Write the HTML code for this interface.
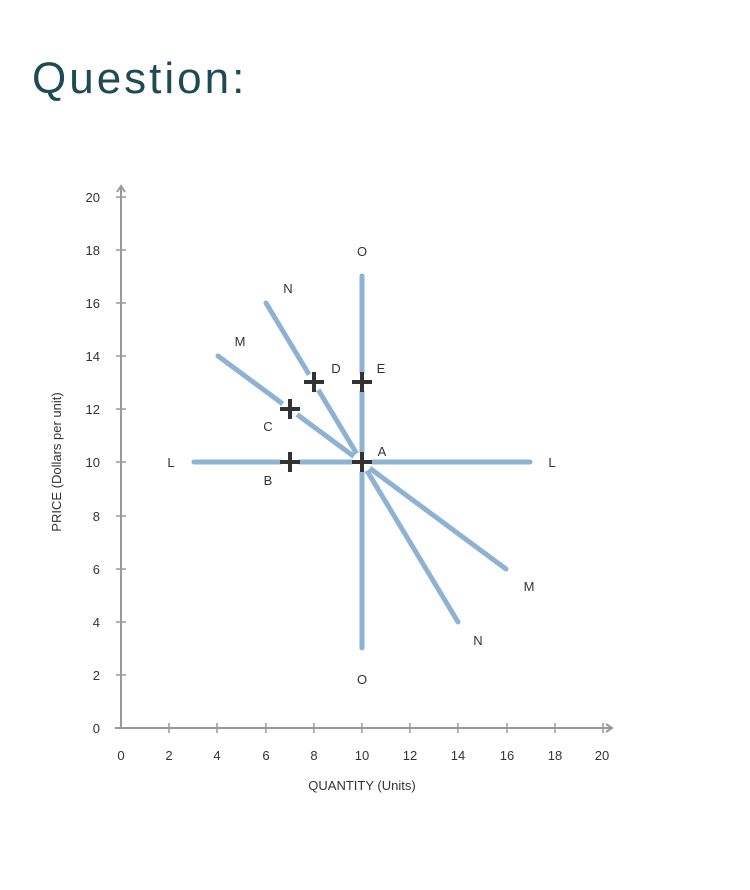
<!DOCTYPE html>
<html><head><meta charset="utf-8"><style>
body{margin:0;background:#fff;width:750px;height:890px;overflow:hidden}
svg{position:absolute;left:0;top:0}
</style></head><body>
<svg width="750" height="890" xmlns="http://www.w3.org/2000/svg" font-family="Liberation Sans, Arial, sans-serif">
<text x="32" y="93" font-size="44" fill="#1e4a55" letter-spacing="3">Question:</text>
<g stroke="#999" stroke-width="2" fill="none">
<line x1="121" y1="188" x2="121" y2="729"/>
<line x1="115" y1="728" x2="612" y2="728"/>
<path d="M117 192 L121 186 L125 192"/>
<path d="M606 724 L612 728 L606 732"/>
</g>
<g stroke="#999" stroke-width="1.5">
<line x1="116" y1="250" x2="126" y2="250"/><line x1="116" y1="303" x2="126" y2="303"/>
<line x1="116" y1="356" x2="126" y2="356"/><line x1="116" y1="409" x2="126" y2="409"/>
<line x1="116" y1="462" x2="126" y2="462"/><line x1="116" y1="516" x2="126" y2="516"/>
<line x1="116" y1="569" x2="126" y2="569"/><line x1="116" y1="622" x2="126" y2="622"/>
<line x1="116" y1="675" x2="126" y2="675"/><line x1="116" y1="197" x2="126" y2="197"/>
<line x1="169" y1="723" x2="169" y2="733"/><line x1="217" y1="723" x2="217" y2="733"/>
<line x1="266" y1="723" x2="266" y2="733"/><line x1="314" y1="723" x2="314" y2="733"/>
<line x1="362" y1="723" x2="362" y2="733"/><line x1="410" y1="723" x2="410" y2="733"/>
<line x1="458" y1="723" x2="458" y2="733"/><line x1="507" y1="723" x2="507" y2="733"/>
<line x1="555" y1="723" x2="555" y2="733"/><line x1="603" y1="723" x2="603" y2="733"/>
</g>
<g font-size="13" fill="#333" text-anchor="end">
<text x="100" y="202">20</text><text x="100" y="255">18</text><text x="100" y="308">16</text>
<text x="100" y="361">14</text><text x="100" y="414">12</text><text x="100" y="467">10</text>
<text x="100" y="521">8</text><text x="100" y="574">6</text><text x="100" y="627">4</text>
<text x="100" y="680">2</text><text x="100" y="733">0</text>
</g>
<g font-size="13" fill="#333" text-anchor="middle">
<text x="121" y="760">0</text><text x="169" y="760">2</text><text x="217" y="760">4</text>
<text x="266" y="760">6</text><text x="314" y="760">8</text><text x="362" y="760">10</text>
<text x="410" y="760">12</text><text x="458" y="760">14</text><text x="507" y="760">16</text>
<text x="555" y="760">18</text><text x="602" y="760">20</text>
<text x="362" y="790">QUANTITY (Units)</text>
<text transform="translate(61,462) rotate(-90)">PRICE (Dollars per unit)</text>
</g>
<g stroke="#8db2d4" stroke-width="5" stroke-linecap="round" fill="none">
<line x1="194" y1="462" x2="530" y2="462"/>
<line x1="362" y1="276" x2="362" y2="648"/>
<line x1="218" y1="356" x2="506" y2="569"/>
<line x1="266" y1="303" x2="458" y2="622"/>
</g>
<g fill="#fff">
<circle cx="362" cy="462" r="10"/><circle cx="290" cy="462" r="9"/>
<circle cx="290" cy="409" r="9"/><circle cx="314" cy="382" r="9"/><circle cx="362" cy="382" r="9"/>
</g>
<g stroke="#333" stroke-width="4">
<path d="M352 462H372M362 452V472"/><path d="M280 462H300M290 452V472"/>
<path d="M280 409H300M290 399V419"/><path d="M304 382H324M314 372V392"/>
<path d="M352 382H372M362 372V392"/>
</g>
<g font-size="13" fill="#333" text-anchor="middle">
<text x="362" y="256">O</text><text x="362" y="684">O</text>
<text x="288" y="293">N</text><text x="478" y="645">N</text>
<text x="240" y="346">M</text><text x="529" y="591">M</text>
<text x="171" y="467">L</text><text x="552" y="467">L</text>
<text x="336" y="373">D</text><text x="381" y="373">E</text>
<text x="268" y="431">C</text><text x="268" y="485">B</text><text x="382" y="456">A</text>
</g>
</svg>
</body></html>
